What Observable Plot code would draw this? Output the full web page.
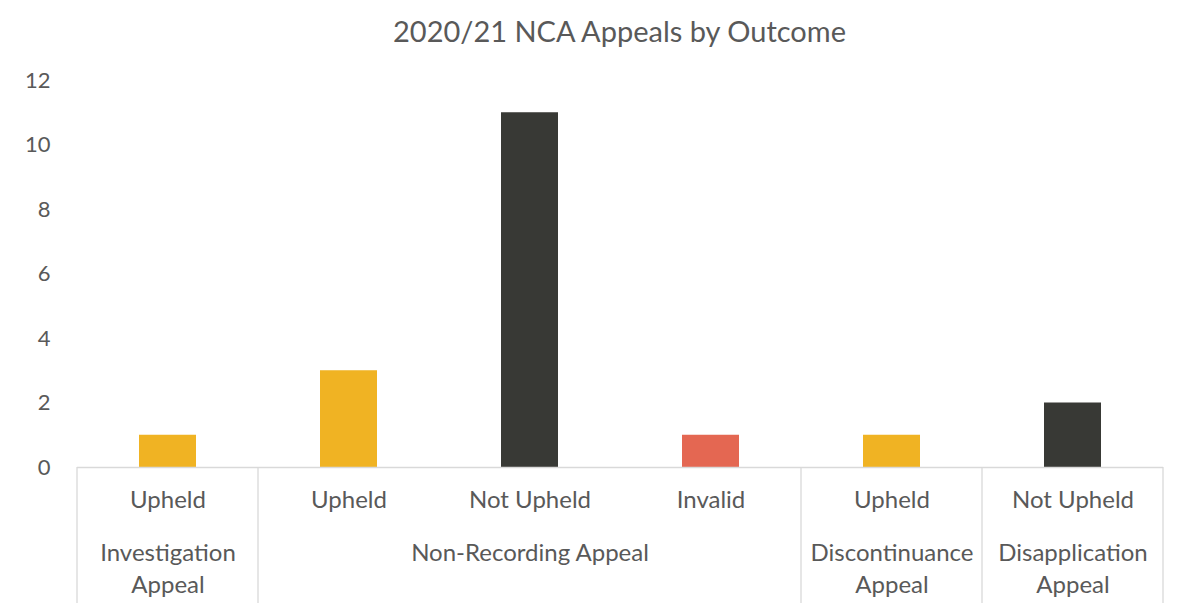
<!DOCTYPE html>
<html>
<head>
<meta charset="utf-8">
<script src="https://cdn.jsdelivr.net/npm/d3@7"></script>
<script src="https://cdn.jsdelivr.net/npm/@observablehq/plot@0.6"></script>
<style>
  html, body { margin: 0; padding: 0; background: #fff; }
  #title { height: 62px; line-height: 62px; text-align: center; padding-left: 60px; font-family: Lato, sans-serif; font-size: 29px; color: #595959; }
  #chart svg { display: block; }
</style>
</head>
<body>
<div id="title">2020/21 NCA Appeals by Outcome</div>
<div id="chart"></div>
<script>
const groups = ["Investigation Appeal", "Non-Recording Appeal", "Non-Recording Appeal", "Non-Recording Appeal", "Discontinuance Appeal", "Disapplication Appeal"];
const outcomes = ["Upheld", "Upheld", "Not Upheld", "Invalid", "Upheld", "Not Upheld"];
const counts = [1, 3, 11, 1, 1, 2];
const groupLabels = {"Investigation Appeal": "Investigation\nAppeal", "Non-Recording Appeal": "Non-Recording Appeal", "Discontinuance Appeal": "Discontinuance\nAppeal", "Disapplication Appeal": "Disapplication\nAppeal"};
const yTicks = [0, 2, 4, 6, 8, 10, 12];
const outcomeNames = ["Upheld", "Not Upheld", "Invalid"];
const outcomeColors = ["#F0B323", "#383935", "#E46752"];

const data = counts.map((v, i) => ({id: String(i), group: groups[i], outcome: outcomes[i], value: v}));

// group spans
const spans = [];
data.forEach((d, i) => {
  const last = spans[spans.length - 1];
  if (last && last.group === d.group) last.ids.push(d.id);
  else spans.push({group: d.group, ids: [d.id]});
});
const groupData = spans.map(s => ({group: s.group, label: groupLabels[s.group], id: s.ids[Math.floor(s.ids.length / 2)]}));

const pInner = 0.685;
const font = "Lato, sans-serif";
const gray = "#595959";
const lineColor = "#d9d9d9";

function separators(...args) {
  let scales = null, dims = null;
  for (const a of args) {
    if (a && typeof a.x === "function") scales = a;
    if (a && typeof a.width === "number" && typeof a.marginLeft === "number") dims = a;
  }
  const x = scales.x, y = scales.y;
  const ids = data.map(d => d.id);
  const step = x(ids[1]) - x(ids[0]);
  const bw = step * (1 - pInner);
  const y0 = y(0);
  const bottom = dims.height - 7;
  const g = d3.create("svg:g");
  const bounds = spans.map(s => x(s.ids[0]) + bw / 2 - step / 2);
  bounds.push(x(ids[ids.length - 1]) + bw / 2 + step / 2);
  bounds.forEach(bx => {
    g.append("line")
      .attr("x1", bx).attr("x2", bx)
      .attr("y1", y0).attr("y2", bottom)
      .attr("stroke", lineColor).attr("stroke-width", 1.3);
  });
  return g.node();
}

const chart = Plot.plot({
  width: 1179,
  height: 548,
  marginTop: 18,
  marginBottom: 143,
  marginLeft: 77,
  marginRight: 16,
  style: {fontFamily: font, background: "#fff"},
  x: {domain: data.map(d => d.id), paddingInner: pInner, paddingOuter: pInner / 2, axis: null},
  y: {domain: [0, 12], axis: null},
  color: {domain: outcomeNames, range: outcomeColors},
  marks: [
    Plot.barY(data, {x: "id", y: "value", fill: "outcome"}),
    Plot.ruleY([0], {stroke: lineColor, strokeWidth: 1.3}),
    separators,
    Plot.axisY({ticks: yTicks, tickSize: 0, tickPadding: 27, fontSize: 22, fill: gray, label: null, tickFormat: d => String(d)}),
    Plot.text(data, {x: "id", y: () => 0, text: "outcome", dy: 33, fontSize: 24, fill: gray}),
    Plot.text(groupData, {x: "id", y: () => 0, text: "label", dy: 71, lineAnchor: "top", lineHeight: 1.33, fontSize: 24, fill: gray})
  ]
});
document.getElementById("chart").appendChild(chart);
</script>
</body>
</html>
